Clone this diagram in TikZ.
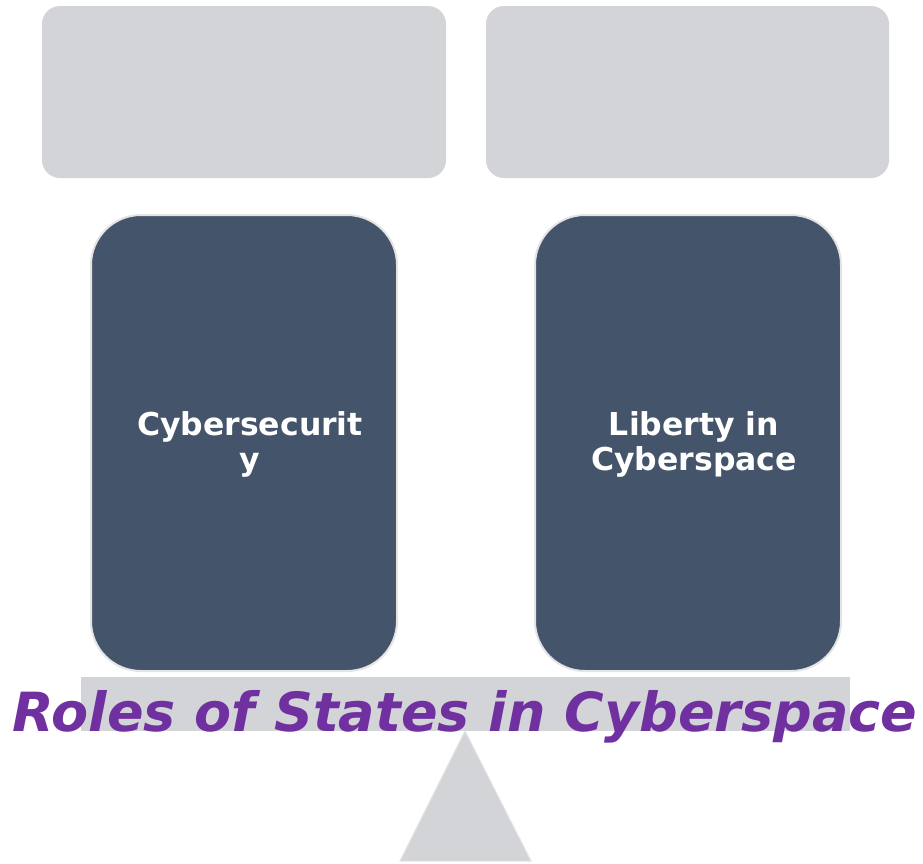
\documentclass[tikz,border=0pt]{standalone}
\usepackage{fontspec}
\setmainfont{DejaVu Sans}
\usetikzlibrary{positioning}
\definecolor{lightbox}{HTML}{D3D4D8}
\definecolor{darkbox}{HTML}{44546A}
\definecolor{boxedge}{HTML}{E4E4E4}
\definecolor{titlepurple}{HTML}{7030A0}
\tikzset{
  topbox/.style={fill=lightbox, draw=none, rounded corners=18pt},
  rolebox/.style={fill=darkbox, draw=boxedge, line width=2pt, rounded corners=50pt},
  roletext/.style={text=white, font=\fontsize{31.5}{35}\selectfont\bfseries, align=center},
  beam/.style={fill=lightbox, draw=none},
  pivot/.style={fill=lightbox, draw=boxedge, line width=1pt},
}
\begin{document}
\begin{tikzpicture}[x=1pt,y=-1pt]
\useasboundingbox (0,0) rectangle (923,863);
\fill[white] (0,0) rectangle (923,863);
\path[topbox] (42,6) rectangle (446,178);
\path[topbox] (486,6) rectangle (889,178);
\path[rolebox] (91,215) rectangle (397,671);
\path[rolebox] (535,215) rectangle (841,671);
\node[roletext] (cyb) at (250,444) {Cybersecurit\\y};
\node[roletext] (lib) at (694,444) {Liberty in\\Cyberspace};
\path[beam] (81,677) rectangle (850,731);
\coordinate (apex) at (465,731);
\draw[pivot] (apex) -- (531,861) -- (400,861) -- cycle;
\node[text=titlepurple, font=\fontsize{54}{60}\selectfont\bfseries\itshape, anchor=base] (title) at (465,731) {Roles of States in Cyberspace};
\end{tikzpicture}
\end{document}
